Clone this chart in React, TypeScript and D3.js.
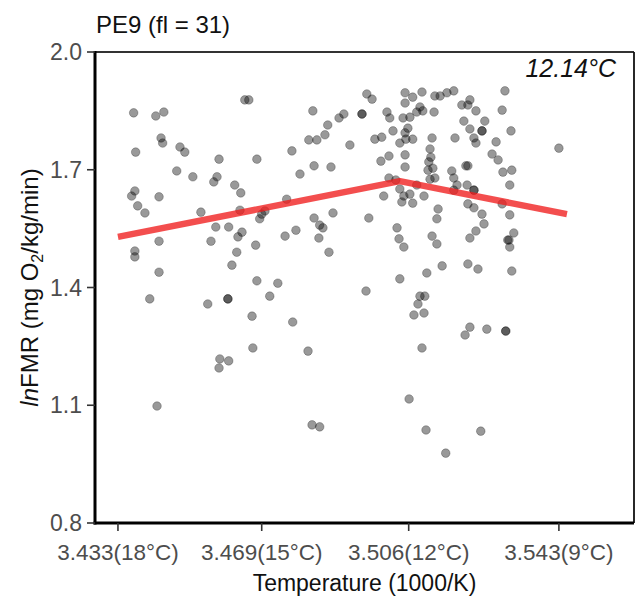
import React from "react";
import * as d3 from "d3";

// Point data: x = 1000/K, y = ln FMR
const xValues: number[] = [
  3.4386, 3.4441, 3.4461, 3.4662, 3.4672, 3.4454, 3.4458, 3.4501, 3.4513, 3.4391,
  3.4598, 3.4692, 3.4779, 3.4493, 3.4533, 3.4593, 3.4585, 3.4637, 3.4652, 3.4389,
  3.4381, 3.4449, 3.4396, 3.4414, 3.4553, 3.4650, 3.4766, 3.4704, 3.4699, 3.4712,
  3.4590, 3.4622, 3.4655, 3.4645, 3.4762, 3.4789, 3.4449, 3.4578, 3.4689, 3.4389,
  3.4389, 3.4642, 3.4630, 3.4449, 3.4692, 3.4744, 3.4426, 3.4570, 3.4620, 3.4724,
  3.4680, 3.4781, 3.4682, 3.4600, 3.4622, 3.4598, 3.4444, 3.4799, 3.4819, 3.4829,
  3.4848, 3.4831, 3.4868, 3.4896, 3.4908, 3.4953, 3.4965, 3.4978, 3.5060, 3.5079,
  3.5102, 3.5060, 3.5015, 3.5022, 3.5055, 3.5072, 3.5089, 3.5097, 3.5104, 3.4821,
  3.4841, 3.4861, 3.4923, 3.4985, 3.5002, 3.5030, 3.5067, 3.5060, 3.5047, 3.5062,
  3.5079, 3.5020, 3.5000, 3.5060, 3.4834, 3.4876, 3.5060, 3.5020, 3.5037, 3.5007,
  3.5047, 3.5052, 3.5057, 3.5072, 3.5079, 3.5089, 3.5107, 3.4881, 3.4834, 3.4848,
  3.4856, 3.4846, 3.4970, 3.4871, 3.5040, 3.5045, 3.5057, 3.5047, 3.4963, 3.5114,
  3.5097, 3.5109, 3.5092, 3.5082, 3.5107, 3.5102, 3.5070, 3.5112, 3.5161, 3.5134,
  3.5147, 3.5164, 3.5181, 3.5308, 3.5132, 3.5201, 3.5216, 3.5221, 3.5236, 3.5301,
  3.5206, 3.5221, 3.5251, 3.5258, 3.5323, 3.5127, 3.5184, 3.5231, 3.5236, 3.5286,
  3.5122, 3.5276, 3.5291, 3.5119, 3.5117, 3.5122, 3.5134, 3.5211, 3.5216, 3.5303,
  3.5325, 3.5176, 3.5181, 3.5189, 3.5214, 3.5231, 3.5181, 3.5320, 3.5216, 3.5231,
  3.5301, 3.5142, 3.5139, 3.5251, 3.5256, 3.5320, 3.5236, 3.5221, 3.5330, 3.5315,
  3.5318, 3.5320, 3.5127, 3.5139, 3.5152, 3.5216, 3.5241, 3.5325, 3.5442, 3.5221,
  3.5209, 3.5263, 3.5310, 3.5248, 3.5124, 3.5129, 3.4620, 3.4953, 3.5310, 3.5251,
  3.5231,
];
const yValues: number[] = [
  1.845, 1.837, 1.847, 1.878, 1.878, 1.781, 1.768, 1.758, 1.745, 1.745,
  1.727, 1.727, 1.748, 1.697, 1.682, 1.682, 1.669, 1.661, 1.641, 1.646,
  1.633, 1.631, 1.608, 1.590, 1.592, 1.597, 1.625, 1.587, 1.575, 1.595,
  1.554, 1.554, 1.541, 1.529, 1.531, 1.546, 1.518, 1.518, 1.508, 1.493,
  1.478, 1.490, 1.457, 1.439, 1.417, 1.411, 1.371, 1.358, 1.371, 1.378,
  1.327, 1.312, 1.246, 1.218, 1.213, 1.195, 1.098, 1.689, 1.238, 1.050,
  1.045, 1.850, 1.814, 1.832, 1.842, 1.842, 1.893, 1.880, 1.896, 1.885,
  1.898, 1.870, 1.847, 1.832, 1.832, 1.834, 1.847, 1.860, 1.850, 1.776,
  1.776, 1.789, 1.763, 1.778, 1.783, 1.799, 1.806, 1.794, 1.768, 1.778,
  1.778, 1.735, 1.722, 1.738, 1.710, 1.707, 1.707, 1.679, 1.674, 1.633,
  1.651, 1.618, 1.633, 1.638, 1.615, 1.661, 1.633, 1.590, 1.577, 1.559,
  1.552, 1.526, 1.577, 1.490, 1.552, 1.524, 1.503, 1.422, 1.391, 1.437,
  1.378, 1.378, 1.358, 1.330, 1.335, 1.246, 1.116, 1.037, 0.978, 1.888,
  1.888, 1.896, 1.901, 1.901, 1.847, 1.865, 1.865, 1.878, 1.850, 1.852,
  1.824, 1.804, 1.799, 1.824, 1.799, 1.781, 1.781, 1.781, 1.768, 1.771,
  1.753, 1.740, 1.725, 1.720, 1.699, 1.676, 1.679, 1.710, 1.710, 1.694,
  1.699, 1.697, 1.679, 1.661, 1.661, 1.648, 1.648, 1.661, 1.613, 1.603,
  1.613, 1.600, 1.575, 1.587, 1.562, 1.585, 1.544, 1.526, 1.539, 1.521,
  1.521, 1.503, 1.531, 1.511, 1.455, 1.460, 1.447, 1.442, 1.755, 1.299,
  1.279, 1.294, 1.289, 1.034, 1.732, 1.704, 1.371, 1.842, 1.289, 1.799,
  1.648,
];

// Segmented regression fit (breakpoint at 12.14 °C)
const fitX: number[] = [3.4347, 3.5047, 3.5462];
const fitY: number[] = [1.529, 1.671, 1.587];

// Axis ticks
const xTickTemps: number[] = [18, 15, 12, 9];
const xTickValues: number[] = [3.4347, 3.4704, 3.5069, 3.5442];
const xTickLabels: string[] = ["3.433", "3.469", "3.506", "3.543"];
const yTickValues: number[] = [0.8, 1.1, 1.4, 1.7, 2.0];

const titleText = "PE9 (fl = 31)";
const breakText = "12.14°C";

const W = 636;
const H = 600;
const L = 95, R = 634, T = 52, B = 523;
const FONT = "'Liberation Sans', Arial, Helvetica, sans-serif";

export default function App() {
  const x = d3.scaleLinear().domain([3.4290, 3.56285]).range([L, R]);
  const y = d3.scaleLinear().domain([0.8, 2.0]).range([B, T]);
  const line = d3
    .line<number>()
    .x((_, i) => x(fitX[i]))
    .y((d) => y(d));

  return (
    <svg
      width={W}
      height={H}
      style={{ position: "absolute", left: 0, top: 0, background: "#fff" }}
      fontFamily={FONT}
    >
      <rect x={0} y={0} width={W} height={H} fill="#fff" />
      {/* points */}
      <g>
        {xValues.map((v, i) => (
          <circle
            key={i}
            cx={x(v)}
            cy={y(yValues[i])}
            r={4.3}
            fill="rgba(0,0,0,0.4)"
            stroke="rgba(0,0,0,0.25)"
            strokeWidth={1}
          />
        ))}
      </g>
      {/* fit line */}
      <path
        d={line(fitY) || ""}
        fill="none"
        stroke="rgba(240,28,28,0.78)"
        strokeWidth={6.5}
        strokeLinejoin="round"
      />
      {/* panel border */}
      <line x1={L} x2={R} y1={T} y2={T} stroke="#333" strokeWidth={1.8} />
      <line x1={R} x2={R} y1={T} y2={B} stroke="#111" strokeWidth={1.8} />
      <line x1={L} x2={L} y1={T - 1} y2={B + 1.5} stroke="#000" strokeWidth={3} />
      <line x1={L - 1.5} x2={R} y1={B} y2={B} stroke="#000" strokeWidth={3} />
      {/* y ticks */}
      {yTickValues.map((v) => (
        <g key={v}>
          <line x1={L - 8} x2={L} y1={y(v)} y2={y(v)} stroke="#333" strokeWidth={1.6} />
          <text
            x={L - 13}
            y={y(v)}
            textAnchor="end"
            dominantBaseline="central"
            fontSize={23}
            fill="#4d4d4d"
          >
            {v.toFixed(1)}
          </text>
        </g>
      ))}
      {/* x ticks */}
      {xTickValues.map((v, i) => (
        <g key={v}>
          <line x1={x(v)} x2={x(v)} y1={B} y2={B + 8} stroke="#333" strokeWidth={1.6} />
          <text x={x(v)} y={560} textAnchor="middle" fontSize={22.5} fill="#4d4d4d">
            {xTickLabels[i]}({xTickTemps[i]}°C)
          </text>
        </g>
      ))}
      {/* axis titles */}
      <text x={(L + R) / 2} y={591} textAnchor="middle" fontSize={23} fill="#111">
        Temperature (1000/K)
      </text>
      <text
        transform={`translate(38,${(T + B) / 2}) rotate(-90)`}
        textAnchor="middle"
        fontSize={24}
        fill="#111"
      >
        <tspan fontStyle="italic">ln</tspan>
        <tspan>FMR (mg O</tspan>
        <tspan fontSize={16} dy={5}>2</tspan>
        <tspan dy={-5}>/kg/min)</tspan>
      </text>
      {/* title */}
      <text x={96} y={33} fontSize={24} fill="#111">
        {titleText}
      </text>
      <text x={616} y={77} textAnchor="end" fontSize={25} fontStyle="italic" fill="#111">
        {breakText}
      </text>
    </svg>
  );
}
